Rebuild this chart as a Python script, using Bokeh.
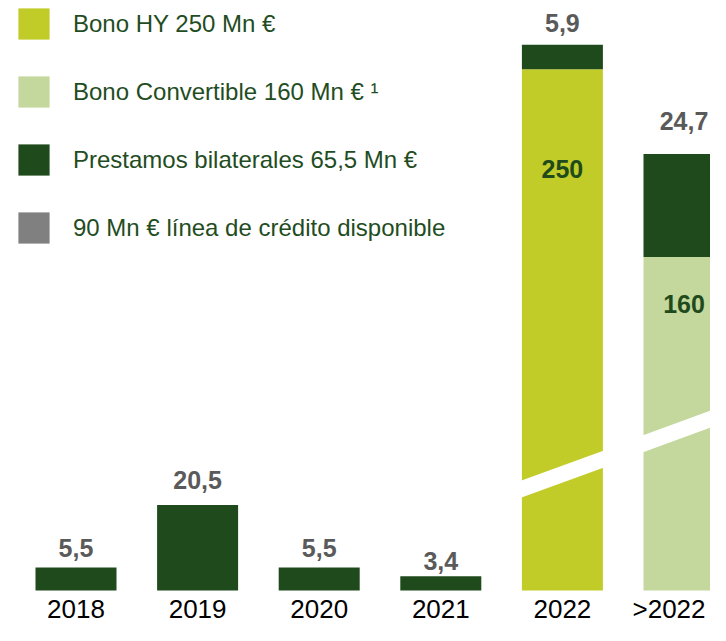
from bokeh.plotting import figure
from bokeh.models import ColumnDataSource, Range1d, Legend, LegendItem
from bokeh.core.properties import value
from bokeh.embed import file_html
from bokeh.resources import INLINE

# ---------------- data ----------------
categories = ["2018", "2019", "2020", "2021", "2022", ">2022"]
bilateral = [5.5, 20.5, 5.5, 3.4, 5.9, 24.7]      # Prestamos bilaterales
hy_bond = [0, 0, 0, 0, 250, 0]                      # Bono HY
convertible = [0, 0, 0, 0, 0, 160]                  # Bono Convertible
credit_line = [90]                                   # legend only (not drawn)
value_labels = ["5,5", "20,5", "5,5", "3,4", "5,9", "24,7"]
bond_labels = ["250", "160"]

legend_labels = [
    "Bono HY 250 Mn €",
    "Bono Convertible 160 Mn € ¹",
    "Prestamos bilaterales 65,5 Mn €",
    "90 Mn € línea de crédito disponible",
]

# ---------------- layout / style ----------------
W, H = 710, 625
PPU = 4.17            # px per value unit
BASE_PX = 590         # baseline position from top of figure
PITCH = 121.6         # px between bar centres
FIRST_C = 75.5        # px of first bar centre
BAR_W = 81 / PITCH
BREAK_SCALE = 0.5     # broken bars are drawn at half scale
BREAK_AT = {4: 27.9, 5: 38.8}     # display units of the white break band
BREAK_THICK = 17 / PPU
BREAK_SLOPE = (30 / PPU) / (82 / PITCH)
LABEL_GAP = [20, 25.5, 20, 15.5, 21.7, 32.5]  # px from bar top to label centre
BOND_LABEL_OFF = [100, 47]                     # px below bond segment top
CAT_X_OFF = [0, 0, 0, 0, 0, -15]               # keep last label inside
CAT_Y_OFF = 18

DARK = "#1f4a1c"
YELLOW = "#c2cc28"
LIGHT = "#c4d79d"
GRAY = "#808080"
LABEL_GRAY = "#5a5a5a"
FONT_NAME = "Liberation Sans"
FONT = value(FONT_NAME)

x = list(range(len(categories)))
hy_disp = [v * BREAK_SCALE for v in hy_bond]
cv_disp = [v * BREAK_SCALE for v in convertible]
bond_top = [a + b for a, b in zip(hy_disp, cv_disp)]
total_top = [a + b for a, b in zip(bond_top, bilateral)]

src = ColumnDataSource(dict(
    x=x, cat=categories, hy=hy_disp, cv=cv_disp, bt=bond_top, tt=total_top,
    vl=value_labels, gap=[-g for g in LABEL_GAP], zero=[0] * len(x),
    xoff=CAT_X_OFF, yoff=[CAT_Y_OFF] * len(x),
))

p = figure(width=W, height=H, output_backend="svg", toolbar_location=None,
           x_range=Range1d(-FIRST_C / PITCH, (W - FIRST_C) / PITCH),
           y_range=Range1d(-(H - BASE_PX) / PPU, BASE_PX / PPU),
           min_border=0, background_fill_color="white", border_fill_color="white")
p.axis.visible = False
p.grid.visible = False
p.outline_line_color = None

r_hy = p.vbar(x="x", width=BAR_W, bottom=0, top="hy", source=src,
              fill_color=YELLOW, line_color=None)
r_cv = p.vbar(x="x", width=BAR_W, bottom=0, top="cv", source=src,
              fill_color=LIGHT, line_color=None)
r_bl = p.vbar(x="x", width=BAR_W, bottom="bt", top="tt", source=src,
              fill_color=DARK, line_color=None)
# credit line: available, not drawn (zero height), only in the legend
r_cl = p.vbar(x=[0], width=BAR_W, bottom=[0], top=[0], fill_color=GRAY,
              line_color=None)

# white break bands
bx, by = [], []
for i, b in BREAK_AT.items():
    x0, x1 = i - BAR_W / 2 - 0.02, i + BAR_W / 2 + 0.02
    y0 = b + BREAK_SLOPE * (x0 - i)
    y1 = b + BREAK_SLOPE * (x1 - i)
    t = BREAK_THICK / 2
    bx.append([x0, x1, x1, x0])
    by.append([y0 - t, y1 - t, y1 + t, y0 + t])
p.patches(bx, by, fill_color="white", line_color=None)

# value labels above bars
p.text(x="x", y="tt", text="vl", source=src, y_offset="gap",
       text_align="center", text_baseline="middle",
       text_font=FONT, text_font_style="bold", text_font_size="25px",
       text_color=LABEL_GRAY)

# bond labels inside bars
bidx = [i for i, v in enumerate(bond_top) if v > 0]
bsrc = ColumnDataSource(dict(x=bidx, y=[bond_top[i] for i in bidx],
                             t=bond_labels, off=BOND_LABEL_OFF))
p.text(x="x", y="y", text="t", source=bsrc, y_offset="off",
       text_align="center", text_baseline="middle",
       text_font=FONT, text_font_style="bold", text_font_size="25px",
       text_color=DARK)

# category labels
p.text(x="x", y="zero", text="cat", source=src, x_offset="xoff",
       y_offset="yoff", text_align="center", text_baseline="middle",
       text_font=FONT, text_font_size="26px", text_color="black")

legend = Legend(items=[
    LegendItem(label=legend_labels[0], renderers=[r_hy]),
    LegendItem(label=legend_labels[1], renderers=[r_cv]),
    LegendItem(label=legend_labels[2], renderers=[r_bl]),
    LegendItem(label=legend_labels[3], renderers=[r_cl]),
], location=(14, H - 247), orientation="vertical",
    glyph_width=39, glyph_height=39, label_height=39, label_standoff=20,
    spacing=29, padding=0, margin=0, border_line_color=None,
    background_fill_alpha=0, label_text_font=FONT_NAME,
    label_text_font_size="24px", label_text_color="#1f4d1f")
p.add_layout(legend, "center")

open("out.html", "w").write(file_html(p, INLINE))
